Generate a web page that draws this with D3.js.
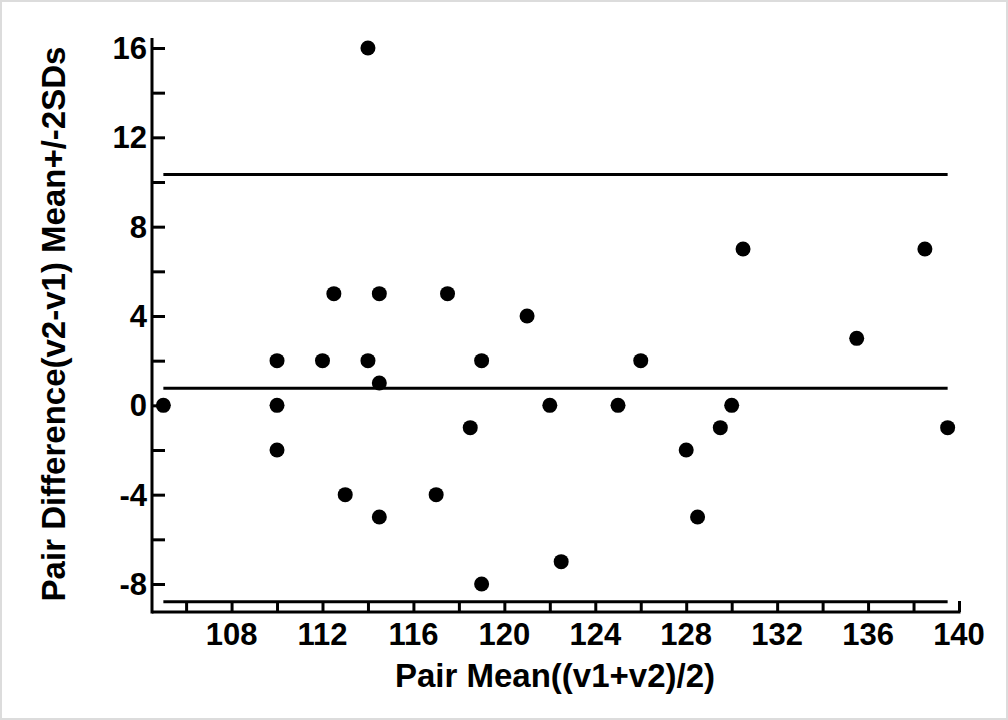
<!DOCTYPE html>
<html>
<head>
<meta charset="utf-8">
<script src="https://cdn.jsdelivr.net/npm/d3@7"></script>
<style>
  html, body { margin: 0; padding: 0; background: #fff; }
  svg { display: block; }
  text { font-family: "Liberation Sans", Arial, sans-serif; font-weight: bold; fill: #000; }
</style>
</head>
<body>
<svg id="chart" width="1008" height="720"></svg>
<script>
// Pair means ((v1+v2)/2)
const pairMean = [105, 110, 110, 110, 112, 112.5, 113, 114, 114, 114.5, 114.5, 114.5, 117, 117.5, 118.5, 119, 119,
                  121, 122, 122.5, 125, 126, 128, 128.5, 129.5, 130, 130.5, 135.5, 138.5, 139.5];
// Pair differences (v2-v1)
const pairDiff = [0, 2, 0, -2, 2, 5, -4, 2, 16, 5, 1, -5, -4, 5, -1, 2, -8,
                  4, 0, -7, 0, 2, -2, -5, -1, 0, 7, 3, 7, -1];
const xTicksMinor = [106, 108, 110, 112, 114, 116, 118, 120, 122, 124, 126, 128, 130, 132, 134, 136, 138, 140];
const xTickLabels = [108, 112, 116, 120, 124, 128, 132, 136, 140];
const yTicksMinor = [-8, -6, -4, -2, 0, 2, 4, 6, 8, 10, 12, 14, 16];
const yTickLabels = [-8, -4, 0, 4, 8, 12, 16];
const xTitle = "Pair Mean((v1+v2)/2)";
const yTitle = "Pair Difference(v2-v1) Mean+/-2SDs";

const svg = d3.select("#chart");
const W = 1008, H = 720;

// light frame around image
svg.append("rect").attr("x", 1).attr("y", 1).attr("width", W - 2).attr("height", H - 2)
  .attr("fill", "none").attr("stroke", "#dcdcdc").attr("stroke-width", 2);

const axisX0 = 152, axisX1 = 959, axisY0 = 612, axisYtop = 38;
const x = d3.scaleLinear().domain([104.5, 140]).range([axisX0, axisX1]);
const y = d3.scaleLinear().domain([-8, 16]).range([584, 48]);

const g = svg.append("g");

// axes using d3 axis generators with inward ticks
const xAxis = d3.axisTop(x).tickValues(xTicksMinor).tickSize(11).tickFormat("");
const xa = g.append("g").attr("transform", `translate(0,${axisY0})`).call(xAxis);
xa.select(".domain").remove();
xa.selectAll(".tick line").attr("stroke", "#000").attr("stroke-width", 3);

const yAxis = d3.axisRight(y).tickValues(yTicksMinor).tickSize(13).tickFormat("");
const ya = g.append("g").attr("transform", `translate(${axisX0},0)`).call(yAxis);
ya.select(".domain").remove();
ya.selectAll(".tick line").attr("stroke", "#000").attr("stroke-width", 3);

// axis lines
g.append("line").attr("x1", axisX0).attr("x2", axisX0).attr("y1", axisYtop).attr("y2", axisY0 + 1.5)
  .attr("stroke", "#000").attr("stroke-width", 3);
g.append("line").attr("x1", axisX0).attr("x2", x(140) + 1.5).attr("y1", axisY0).attr("y2", axisY0)
  .attr("stroke", "#000").attr("stroke-width", 3);

// tick labels
g.selectAll("text.xl").data(xTickLabels).join("text").attr("class", "xl")
  .attr("x", d => x(d)).attr("y", 645).attr("text-anchor", "middle")
  .style("font-size", "31px").text(d => d);
g.selectAll("text.yl").data(yTickLabels).join("text").attr("class", "yl")
  .attr("x", 147).attr("y", d => y(d) + 11).attr("text-anchor", "end")
  .style("font-size", "31px").text(d => d);

// titles
g.append("text").attr("x", 555).attr("y", 687).attr("text-anchor", "middle")
  .style("font-size", "33px").text(xTitle);
g.append("text").attr("transform", "translate(65,324) rotate(-90)").attr("text-anchor", "middle")
  .style("font-size", "33px").text(yTitle);

// mean and +/- 2SD lines, spanning the data range
const n = pairDiff.length;
const mean = d3.mean(pairDiff);
const sd = d3.deviation(pairDiff);
const limits = [mean + 2 * sd, mean, mean - 2 * sd];
const xmin = d3.min(pairMean), xmax = d3.max(pairMean);
g.selectAll("line.lim").data(limits).join("line").attr("class", "lim")
  .attr("x1", x(xmin)).attr("x2", x(xmax))
  .attr("y1", d => y(d)).attr("y2", d => y(d))
  .attr("stroke", "#000").attr("stroke-width", 3);

// points
g.selectAll("circle.pt").data(pairMean.map((m, i) => [m, pairDiff[i]])).join("circle").attr("class", "pt")
  .attr("cx", d => x(d[0])).attr("cy", d => y(d[1])).attr("r", 7.5).attr("fill", "#000");
</script>
</body>
</html>
